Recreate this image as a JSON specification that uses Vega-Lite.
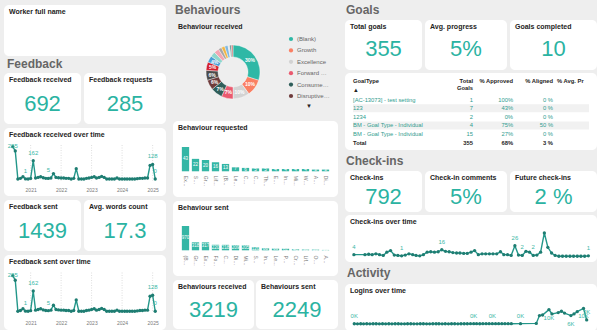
{
  "$schema": "https://vega.github.io/schema/vega-lite/v6.json",
  "background": "#eeeeee",
  "padding": {"left": 4, "top": 3, "right": 0, "bottom": 0},
  "config": {
    "font": "Liberation Sans",
    "view": {"fill": "#ffffff", "stroke": null, "cornerRadius": 5},
    "title": {"anchor": "start", "frame": "group", "fontSize": 7, "fontWeight": "bold", "color": "#252423", "offset": -10, "dx": 5, "font": "Liberation Sans"},
    "axis": {"domain": false, "ticks": false, "grid": false, "labelColor": "#7a7a7a", "labelFontSize": 5, "title": null, "labelFont": "Liberation Sans"},
    "concat": {"spacing": 4},
    "text": {"font": "Liberation Sans"}
  },
  "datasets": {
    "kpi": [
      {"k": "Worker full name", "v": ""},
      {"k": "Feedback received", "v": "692"}, {"k": "Feedback requests", "v": "285"},
      {"k": "Feedback sent", "v": "1439"}, {"k": "Avg. words count", "v": "17.3"},
      {"k": "Behaviours received", "v": "3219"}, {"k": "Behaviours sent", "v": "2249"},
      {"k": "Total goals", "v": "355"}, {"k": "Avg. progress", "v": "5%"}, {"k": "Goals completed", "v": "10"},
      {"k": "Check-ins", "v": "792"}, {"k": "Check-in comments", "v": "5%"}, {"k": "Future check-ins", "v": "2 %"}
    ],
    "years": [{"d": "2021-01-01"}, {"d": "2022-01-01"}, {"d": "2023-01-01"}, {"d": "2024-01-01"}, {"d": "2025-01-01"}],
    "fb": [
      {"d": "2020-06-01", "v": 285, "lab": "285"}, {"d": "2020-07-01", "v": 248}, {"d": "2020-08-01", "v": 0}, {"d": "2020-09-01", "v": 6},
      {"d": "2020-10-01", "v": 20}, {"d": "2020-11-01", "v": 1, "lab": "1"}, {"d": "2020-12-01", "v": 0}, {"d": "2021-01-01", "v": 5},
      {"d": "2021-02-01", "v": 162, "lab": "162"}, {"d": "2021-03-01", "v": 9}, {"d": "2021-04-01", "v": 14}, {"d": "2021-05-01", "v": 20},
      {"d": "2021-06-01", "v": 11}, {"d": "2021-07-01", "v": 6}, {"d": "2021-08-01", "v": 5, "lab": "5"}, {"d": "2021-09-01", "v": 9},
      {"d": "2021-10-01", "v": 48}, {"d": "2021-11-01", "v": 14}, {"d": "2021-12-01", "v": 11}, {"d": "2022-01-01", "v": 9},
      {"d": "2022-02-01", "v": 9}, {"d": "2022-03-01", "v": 6}, {"d": "2022-04-01", "v": 6}, {"d": "2022-05-01", "v": 0},
      {"d": "2022-06-01", "v": 6}, {"d": "2022-07-01", "v": 91}, {"d": "2022-08-01", "v": 0}, {"d": "2022-09-01", "v": 0},
      {"d": "2022-10-01", "v": 0}, {"d": "2022-11-01", "v": 6}, {"d": "2022-12-01", "v": 9}, {"d": "2023-01-01", "v": 14},
      {"d": "2023-02-01", "v": 20}, {"d": "2023-03-01", "v": 9}, {"d": "2023-04-01", "v": 14}, {"d": "2023-05-01", "v": 23},
      {"d": "2023-06-01", "v": 14}, {"d": "2023-07-01", "v": 0}, {"d": "2023-08-01", "v": 0}, {"d": "2023-09-01", "v": 0},
      {"d": "2023-10-01", "v": 0}, {"d": "2023-11-01", "v": 9}, {"d": "2023-12-01", "v": 0}, {"d": "2024-01-01", "v": 0},
      {"d": "2024-02-01", "v": 0}, {"d": "2024-03-01", "v": 0}, {"d": "2024-04-01", "v": 0}, {"d": "2024-05-01", "v": 0},
      {"d": "2024-06-01", "v": 0}, {"d": "2024-07-01", "v": 3}, {"d": "2024-08-01", "v": 6}, {"d": "2024-09-01", "v": 6},
      {"d": "2024-10-01", "v": 9}, {"d": "2024-11-01", "v": 9}, {"d": "2024-12-01", "v": 120}, {"d": "2025-01-01", "v": 128, "lab": "128"},
      {"d": "2025-02-01", "v": 0, "lab": "0"}
    ],
    "ci": [
      {"d": "2019-10-01", "v": 4, "lab": "4"}, {"d": "2020-01-01", "v": 4}, {"d": "2020-02-01", "v": 5}, {"d": "2020-03-01", "v": 4},
      {"d": "2020-04-01", "v": 6}, {"d": "2020-05-01", "v": 4}, {"d": "2020-06-01", "v": 2}, {"d": "2020-07-01", "v": 10},
      {"d": "2020-08-01", "v": 14}, {"d": "2020-09-01", "v": 3}, {"d": "2020-10-01", "v": 2}, {"d": "2020-11-01", "v": 1, "lab": "1"},
      {"d": "2020-12-01", "v": 3}, {"d": "2021-01-01", "v": 6}, {"d": "2021-02-01", "v": 4}, {"d": "2021-03-01", "v": 2},
      {"d": "2021-04-01", "v": 1}, {"d": "2021-05-01", "v": 4}, {"d": "2021-06-01", "v": 10}, {"d": "2021-07-01", "v": 11},
      {"d": "2021-08-01", "v": 10}, {"d": "2021-09-01", "v": 11}, {"d": "2021-10-01", "v": 16, "lab": "16"}, {"d": "2021-11-01", "v": 12},
      {"d": "2021-12-01", "v": 11}, {"d": "2022-01-01", "v": 9}, {"d": "2022-02-01", "v": 8}, {"d": "2022-03-01", "v": 8},
      {"d": "2022-04-01", "v": 7}, {"d": "2022-05-01", "v": 7}, {"d": "2022-06-01", "v": 10}, {"d": "2022-07-01", "v": 14},
      {"d": "2022-08-01", "v": 4}, {"d": "2022-09-01", "v": 6}, {"d": "2022-10-01", "v": 6}, {"d": "2022-11-01", "v": 6},
      {"d": "2022-12-01", "v": 6}, {"d": "2023-01-01", "v": 6}, {"d": "2023-02-01", "v": 11}, {"d": "2023-03-01", "v": 4},
      {"d": "2023-04-01", "v": 4}, {"d": "2023-05-01", "v": 2}, {"d": "2023-06-01", "v": 26, "lab": "26"}, {"d": "2023-07-01", "v": 3},
      {"d": "2023-08-01", "v": 2, "lab": "2"}, {"d": "2023-09-01", "v": 12}, {"d": "2023-10-01", "v": 10}, {"d": "2023-11-01", "v": 2, "lab": "2"},
      {"d": "2023-12-01", "v": 3}, {"d": "2024-01-01", "v": 10}, {"d": "2024-02-01", "v": 57}, {"d": "2024-03-01", "v": 22},
      {"d": "2024-04-01", "v": 8}, {"d": "2024-05-01", "v": 2}, {"d": "2024-06-01", "v": 0}, {"d": "2024-07-01", "v": 0},
      {"d": "2024-08-01", "v": 0}, {"d": "2024-09-01", "v": 0}, {"d": "2024-10-01", "v": 0}, {"d": "2024-11-01", "v": 0},
      {"d": "2024-12-01", "v": 0}, {"d": "2025-01-01", "v": 0}, {"d": "2025-02-01", "v": 1, "lab": "1"}
    ],
    "lg": [
      {"d": "2018-12-01", "v": 150, "lab": "0K"}, {"d": "2019-01-01", "v": 120}, {"d": "2019-02-01", "v": 180}, {"d": "2019-03-01", "v": 140},
      {"d": "2019-04-01", "v": 160}, {"d": "2019-05-01", "v": 130}, {"d": "2019-06-01", "v": 170}, {"d": "2019-07-01", "v": 150},
      {"d": "2019-08-01", "v": 120}, {"d": "2019-09-01", "v": 160}, {"d": "2019-10-01", "v": 140}, {"d": "2019-11-01", "v": 180},
      {"d": "2019-12-01", "v": 130}, {"d": "2020-01-01", "v": 150}, {"d": "2020-02-01", "v": 160}, {"d": "2020-03-01", "v": 140},
      {"d": "2020-04-01", "v": 120}, {"d": "2020-05-01", "v": 150}, {"d": "2020-06-01", "v": 170}, {"d": "2020-07-01", "v": 140},
      {"d": "2020-08-01", "v": 130}, {"d": "2020-09-01", "v": 160}, {"d": "2020-10-01", "v": 150}, {"d": "2020-11-01", "v": 140},
      {"d": "2020-12-01", "v": 120}, {"d": "2021-01-01", "v": 160}, {"d": "2021-02-01", "v": 150}, {"d": "2021-03-01", "v": 170},
      {"d": "2021-04-01", "v": 140}, {"d": "2021-05-01", "v": 150}, {"d": "2021-06-01", "v": 130}, {"d": "2021-07-01", "v": 160},
      {"d": "2021-08-01", "v": 150}, {"d": "2021-09-01", "v": 140}, {"d": "2021-10-01", "v": 170}, {"d": "2021-11-01", "v": 160},
      {"d": "2021-12-01", "v": 150}, {"d": "2022-01-01", "v": 190}, {"d": "2022-02-01", "v": 220, "lab": "0K"}, {"d": "2022-03-01", "v": 200},
      {"d": "2022-04-01", "v": 180}, {"d": "2022-05-01", "v": 210}, {"d": "2022-06-01", "v": 190}, {"d": "2022-07-01", "v": 200},
      {"d": "2022-08-01", "v": 230, "lab": "0K"}, {"d": "2022-09-01", "v": 210}, {"d": "2022-10-01", "v": 200}, {"d": "2022-11-01", "v": 190},
      {"d": "2022-12-01", "v": 210}, {"d": "2023-01-01", "v": 200}, {"d": "2023-02-01", "v": 190}, {"d": "2023-05-01", "v": 220, "lab": "0K"},
      {"d": "2023-10-01", "v": 400}, {"d": "2023-11-01", "v": 5600}, {"d": "2023-12-01", "v": 6000}, {"d": "2024-02-01", "v": 9600, "labB": "10K"},
      {"d": "2024-03-01", "v": 6700}, {"d": "2024-05-01", "v": 7600}, {"d": "2024-06-01", "v": 8500}, {"d": "2024-07-01", "v": 7300},
      {"d": "2024-09-01", "v": 5600, "labB": "6K"}, {"d": "2024-10-01", "v": 6700}, {"d": "2024-11-01", "v": 8200}, {"d": "2025-01-01", "v": 10400, "labB": "10K"},
      {"d": "2025-02-01", "v": 2700, "lab": "3K"}
    ],
    "beh": [
      {"b": "(Blank)", "p": 0.30}, {"b": "Growth", "p": 0.10}, {"b": "Excellence", "p": 0.10}, {"b": "Forward Leaning", "p": 0.07},
      {"b": "Consumer Centric", "p": 0.07}, {"b": "Disruptive Innovation", "p": 0.06}, {"b": "Mindset", "p": 0.06}, {"b": "Sustainability", "p": 0.05},
      {"b": "Innovation", "p": 0.04}, {"b": "Leadership", "p": 0.03}, {"b": "Performance", "p": 0.03}, {"b": "Creativity", "p": 0.02},
      {"b": "Lifelong Learning", "p": 0.02}, {"b": "Ownership", "p": 0.02}, {"b": "Adaptability", "p": 0.01}, {"b": "Collaboration", "p": 0.01},
      {"b": "Customer Focus", "p": 0.01}
    ],
    "req": [
      {"b": "Excellence", "v": 43}, {"b": "Sustainability", "v": 22}, {"b": "Growth", "v": 20}, {"b": "Lifelong Learning", "v": 16},
      {"b": "(Blank)", "v": 13}, {"b": "Leadership", "v": 7}, {"b": "Collaboration", "v": 6}, {"b": "Customer Focus", "v": 5},
      {"b": "Thinking Big", "v": 5}, {"b": "Empathy", "v": 4}, {"b": "Innovation", "v": 4}, {"b": "Mindset", "v": 4},
      {"b": "Wellbeing", "v": 4}, {"b": "Adaptability", "v": 3}, {"b": "Disruptive Innovation", "v": 3}
    ],
    "sent": [
      {"b": "(Blank)", "v": 970}, {"b": "Growth", "v": 318}, {"b": "Excellence", "v": 317}, {"b": "Forward Leaning", "v": 220},
      {"b": "Consumer Centric", "v": 218}, {"b": "Disruptive Innovation", "v": 209}, {"b": "Mindset", "v": 205}, {"b": "Sustainability", "v": 120},
      {"b": "Innovation", "v": 80}, {"b": "Leadership", "v": 66}, {"b": "Performance", "v": 62}, {"b": "Creativity", "v": 40},
      {"b": "Lifelong Learning", "v": 30}, {"b": "Ownership", "v": 28}, {"b": "Adaptability", "v": 15}
    ],
    "goals": [
      {"r": "r1", "type": "[AC-13073] - test setting", "total": "1", "appr": "100%", "alig": "0 %"},
      {"r": "r2", "type": "123", "total": "7", "appr": "43%", "alig": "0 %"},
      {"r": "r3", "type": "1234", "total": "2", "appr": "0%", "alig": "0 %"},
      {"r": "r4", "type": "BM - Goal Type - Individual", "total": "4", "appr": "75%", "alig": "50 %"},
      {"r": "r5", "type": "BM - Goal Type - Individual", "total": "15", "appr": "27%", "alig": "0 %"},
      {"r": "t", "type": "Total", "total": "355", "appr": "68%", "alig": "3 %"}
    ],
    "hdr": [
      {"c": "type", "r": "h", "h": "GoalType"},
      {"c": "type", "r": "s", "h": "▲"},
      {"c": "total", "r": "h", "h": "Total\nGoals"},
      {"c": "appr", "r": "h", "h": "% Approved"},
      {"c": "alig", "r": "h", "h": "% Aligned"},
      {"c": "avg", "r": "h", "h": "% Avg. Progress"}
    ]
  },
  "spacing": 7,
  "resolve": {"scale": {"color": "independent"}, "legend": {"color": "independent"}},
  "hconcat": [
    {
      "spacing": 2,
      "vconcat": [
        {"width": 162, "height": 51, "title": "Worker full name", "data": {"name": "kpi"}, "transform": [{"filter": "datum.k == 'Worker full name'"}], "mark": {"type": "text", "fontSize": 22, "color": "#2bb3a2", "dy": 6}, "encoding": {"x": {"datum": 0, "type": "quantitative", "scale": {"domain": [-1, 1]}, "axis": null}, "y": {"datum": 0, "type": "quantitative", "scale": {"domain": [-1, 1]}, "axis": null}, "text": {"field": "v"}}},
        {
          "title": {"text": "Feedback", "fontSize": 12, "color": "#666666", "offset": 2, "dx": 3},
          "spacing": 4,
          "vconcat": [
            {"spacing": 3, "hconcat": [
              {"width": 77, "height": 51, "title": "Feedback received", "data": {"name": "kpi"}, "transform": [{"filter": "datum.k == 'Feedback received'"}], "mark": {"type": "text", "fontSize": 22, "color": "#2bb3a2", "dy": 5.5}, "encoding": {"x": {"datum": 0, "type": "quantitative", "scale": {"domain": [-1, 1]}, "axis": null}, "y": {"datum": 0, "type": "quantitative", "scale": {"domain": [-1, 1]}, "axis": null}, "text": {"field": "v"}}},
              {"width": 82, "height": 51, "title": "Feedback requests", "data": {"name": "kpi"}, "transform": [{"filter": "datum.k == 'Feedback requests'"}], "mark": {"type": "text", "fontSize": 22, "color": "#2bb3a2", "dy": 5.5}, "encoding": {"x": {"datum": 0, "type": "quantitative", "scale": {"domain": [-1, 1]}, "axis": null}, "y": {"datum": 0, "type": "quantitative", "scale": {"domain": [-1, 1]}, "axis": null}, "text": {"field": "v"}}}
            ]},
            {
              "width": 162, "height": 68, "title": "Feedback received over time",
              "encoding": {"x": {"field": "d", "type": "temporal", "scale": {"domain": [{"year": 2020, "month": 2, "date": 17, "utc": true}, {"year": 2025, "month": 6, "date": 10, "utc": true}]}, "axis": {"format": "%Y", "tickCount": "year", "offset": -9, "labelPadding": 0, "labelFlush": false}}},
              "layer": [
                {"data": {"name": "years"}, "mark": {"type": "rule", "strokeDash": [1, 1.5], "color": "#c8c8c8", "strokeWidth": 0.6}, "encoding": {"y": {"datum": 300, "type": "quantitative", "axis": null}, "y2": {"datum": -14}}},
                {"data": {"name": "fb"}, "mark": {"type": "line", "color": "#23978a", "strokeWidth": 1.4, "point": {"filled": true, "size": 11, "color": "#1e7d72"}}, "encoding": {"y": {"field": "v", "type": "quantitative", "scale": {"domain": [-134, 448]}, "axis": null}}},
                {"data": {"name": "fb"}, "transform": [{"filter": "isValid(datum.lab) && datum.v < 250"}], "mark": {"type": "text", "fontSize": 6, "color": "#3bb8a7", "dy": -8}, "encoding": {"y": {"field": "v", "type": "quantitative", "axis": null}, "text": {"field": "lab"}}},
                {"data": {"name": "fb"}, "transform": [{"filter": "isValid(datum.lab) && datum.v >= 250"}], "mark": {"type": "text", "fontSize": 6, "color": "#3bb8a7", "dy": -1}, "encoding": {"y": {"field": "v", "type": "quantitative", "axis": null}, "text": {"field": "lab"}}}
              ]
            },
            {"spacing": 3, "hconcat": [
              {"width": 77, "height": 51, "title": "Feedback sent", "data": {"name": "kpi"}, "transform": [{"filter": "datum.k == 'Feedback sent'"}], "mark": {"type": "text", "fontSize": 22, "color": "#2bb3a2", "dy": 5.5}, "encoding": {"x": {"datum": 0, "type": "quantitative", "scale": {"domain": [-1, 1]}, "axis": null}, "y": {"datum": 0, "type": "quantitative", "scale": {"domain": [-1, 1]}, "axis": null}, "text": {"field": "v"}}},
              {"width": 82, "height": 51, "title": "Avg. words count", "data": {"name": "kpi"}, "transform": [{"filter": "datum.k == 'Avg. words count'"}], "mark": {"type": "text", "fontSize": 22, "color": "#2bb3a2", "dy": 5.5}, "encoding": {"x": {"datum": 0, "type": "quantitative", "scale": {"domain": [-1, 1]}, "axis": null}, "y": {"datum": 0, "type": "quantitative", "scale": {"domain": [-1, 1]}, "axis": null}, "text": {"field": "v"}}}
            ]},
            {
              "width": 162, "height": 75, "title": "Feedback sent over time",
              "encoding": {"x": {"field": "d", "type": "temporal", "scale": {"domain": [{"year": 2020, "month": 2, "date": 17, "utc": true}, {"year": 2025, "month": 6, "date": 10, "utc": true}]}, "axis": {"format": "%Y", "tickCount": "year", "offset": -10, "labelPadding": 0, "labelFlush": false}}},
              "layer": [
                {"data": {"name": "years"}, "mark": {"type": "rule", "strokeDash": [1, 1.5], "color": "#c8c8c8", "strokeWidth": 0.6}, "encoding": {"y": {"datum": 310, "type": "quantitative", "axis": null}, "y2": {"datum": -10}}},
                {"data": {"name": "fb"}, "mark": {"type": "line", "color": "#23978a", "strokeWidth": 1.4, "point": {"filled": true, "size": 11, "color": "#1e7d72"}}, "encoding": {"y": {"field": "v", "type": "quantitative", "scale": {"domain": [-130, 448]}, "axis": null}}},
                {"data": {"name": "fb"}, "transform": [{"filter": "isValid(datum.lab) && datum.v < 250"}], "mark": {"type": "text", "fontSize": 6, "color": "#3bb8a7", "dy": -8}, "encoding": {"y": {"field": "v", "type": "quantitative", "axis": null}, "text": {"field": "lab"}}},
                {"data": {"name": "fb"}, "transform": [{"filter": "isValid(datum.lab) && datum.v >= 250"}], "mark": {"type": "text", "fontSize": 6, "color": "#3bb8a7", "dy": -1}, "encoding": {"y": {"field": "v", "type": "quantitative", "axis": null}, "text": {"field": "lab"}}}
              ]
            }
          ]
        }
      ]
    },
    {
      "spacing": 4,
      "resolve": {"scale": {"color": "independent"}, "legend": {"color": "independent"}},
      "vconcat": [
        {"width": 165, "height": 11, "view": {"fill": "#eeeeee"}, "title": {"text": "Behaviours", "fontSize": 12, "color": "#666666", "offset": -12, "dx": 2}, "data": {"values": [{"v": ""}]}, "mark": {"type": "text"}, "encoding": {"text": {"field": "v"}}},
        {
          "width": 165, "height": 97, "title": "Behaviour received",
          "data": {"name": "beh"},
          "encoding": {"theta": {"field": "p", "type": "quantitative", "stack": true}, "order": {"field": "p", "sort": "descending"}},
          "layer": [
            {"mark": {"type": "arc", "outerRadius": 27, "innerRadius": 15, "xOffset": -22.5, "yOffset": 3.5, "stroke": "#ffffff", "strokeWidth": 0.4},
             "encoding": {"color": {"field": "b", "type": "nominal", "sort": null,
               "scale": {"domain": ["(Blank)", "Growth", "Excellence", "Forward Leaning", "Consumer Centric", "Disruptive Innovation", "Mindset", "Sustainability", "Innovation", "Leadership", "Performance", "Creativity", "Lifelong Learning", "Ownership", "Adaptability", "Collaboration", "Customer Focus"],
                         "range": ["#2fb8a6", "#fa8064", "#d3d3d3", "#ea5a6f", "#2f5e5a", "#6e3b3b", "#4b4b4b", "#d21f2e", "#4a9fd6", "#8fd6cc", "#f3a6b3", "#a6a6a6", "#f2b544", "#7fb8e0", "#e0e0e0", "#5c8f8a", "#cc7777"]},
               "legend": {"orient": "none", "legendX": 115, "legendY": 16, "values": ["(Blank)", "Growth", "Excellence", "Forward Leaning", "Consumer Centric", "Disruptive Innovation"],
                          "title": "▼", "titleOrient": "bottom", "titleAnchor": "middle", "titleFontSize": 6, "titleColor": "#252423", "titlePadding": 4,
                          "symbolType": "circle", "symbolSize": 18, "symbolStrokeWidth": 0, "labelFontSize": 6, "labelColor": "#666666", "labelLimit": 33, "rowPadding": 5.4, "labelOffset": 3}}}},
            {"mark": {"type": "text", "radius": 21, "xOffset": -22.5, "yOffset": 3.5, "fontSize": 5, "color": "#ffffff", "fontWeight": "bold"},
             "encoding": {"detail": {"field": "b"}, "text": {"condition": {"test": "datum.p < 0.04", "value": ""}, "field": "p", "format": ".0%"}}}
          ]
        },
        {
          "width": 165, "height": 76, "title": "Behaviour requested",
          "data": {"name": "req"},
          "encoding": {"x": {"field": "b", "type": "nominal", "sort": null, "scale": {"paddingInner": 0.27, "paddingOuter": 0.885}, "axis": {"labelAngle": 90, "labelLimit": 11, "labelFontSize": 5, "offset": -22.7, "labelPadding": 1}}},
          "layer": [
            {"mark": {"type": "bar", "color": "#34b6a5"}, "encoding": {"y": {"field": "v", "type": "quantitative", "scale": {"domain": [-45.5, 89]}, "axis": null}}},
            {"mark": {"type": "text", "color": "#ffffff", "fontSize": 4.5, "baseline": "middle"}, "encoding": {"y": {"field": "v", "type": "quantitative", "scale": {"domain": [-91, 178]}, "axis": null}, "text": {"field": "v"}}}
          ],
          "resolve": {"scale": {"y": "independent"}}
        },
        {
          "width": 165, "height": 75, "title": "Behaviour sent",
          "data": {"name": "sent"},
          "encoding": {"x": {"field": "b", "type": "nominal", "sort": null, "scale": {"paddingInner": 0.27, "paddingOuter": 0.885}, "axis": {"labelAngle": 90, "labelLimit": 11, "labelFontSize": 5, "offset": -22, "labelPadding": 1}}},
          "layer": [
            {"mark": {"type": "bar", "color": "#34b6a5"}, "encoding": {"y": {"field": "v", "type": "quantitative", "scale": {"domain": [-1026, 1968]}, "axis": null}}},
            {"mark": {"type": "text", "color": "#ffffff", "fontSize": 4.5, "baseline": "middle"}, "encoding": {"y": {"field": "v", "type": "quantitative", "scale": {"domain": [-2052, 3936]}, "axis": null}, "text": {"field": "v"}}}
          ],
          "resolve": {"scale": {"y": "independent"}}
        },
        {"spacing": 2, "hconcat": [
          {"width": 81, "height": 49, "title": "Behaviours received", "data": {"name": "kpi"}, "transform": [{"filter": "datum.k == 'Behaviours received'"}], "mark": {"type": "text", "fontSize": 22, "color": "#2bb3a2", "dy": 5.8}, "encoding": {"x": {"datum": 0, "type": "quantitative", "scale": {"domain": [-1, 1]}, "axis": null}, "y": {"datum": 0, "type": "quantitative", "scale": {"domain": [-1, 1]}, "axis": null}, "text": {"field": "v"}}},
          {"width": 82, "height": 49, "title": "Behaviours sent", "data": {"name": "kpi"}, "transform": [{"filter": "datum.k == 'Behaviours sent'"}], "mark": {"type": "text", "fontSize": 22, "color": "#2bb3a2", "dy": 5.8}, "encoding": {"x": {"datum": 0, "type": "quantitative", "scale": {"domain": [-1, 1]}, "axis": null}, "y": {"datum": 0, "type": "quantitative", "scale": {"domain": [-1, 1]}, "axis": null}, "text": {"field": "v"}}}
        ]}
      ]
    },
    {
      "spacing": 5,
      "vconcat": [
        {
          "spacing": 3,
          "vconcat": [
            {"width": 252, "height": 12, "view": {"fill": "#eeeeee"}, "title": {"text": "Goals", "fontSize": 12, "color": "#666666", "offset": -12, "dx": 1}, "data": {"values": [{"v": ""}]}, "mark": {"type": "text"}, "encoding": {"text": {"field": "v"}}},
            {"spacing": 3, "hconcat": [
              {"width": 77, "height": 50, "title": "Total goals", "data": {"name": "kpi"}, "transform": [{"filter": "datum.k == 'Total goals'"}], "mark": {"type": "text", "fontSize": 22, "color": "#2bb3a2", "dy": 3.5}, "encoding": {"x": {"datum": 0, "type": "quantitative", "scale": {"domain": [-1, 1]}, "axis": null}, "y": {"datum": 0, "type": "quantitative", "scale": {"domain": [-1, 1]}, "axis": null}, "text": {"field": "v"}}},
              {"width": 82, "height": 50, "title": "Avg. progress", "data": {"name": "kpi"}, "transform": [{"filter": "datum.k == 'Avg. progress'"}], "mark": {"type": "text", "fontSize": 22, "color": "#2bb3a2", "dy": 3.5}, "encoding": {"x": {"datum": 0, "type": "quantitative", "scale": {"domain": [-1, 1]}, "axis": null}, "y": {"datum": 0, "type": "quantitative", "scale": {"domain": [-1, 1]}, "axis": null}, "text": {"field": "v"}}},
              {"width": 87, "height": 50, "title": "Goals completed", "data": {"name": "kpi"}, "transform": [{"filter": "datum.k == 'Goals completed'"}], "mark": {"type": "text", "fontSize": 22, "color": "#2bb3a2", "dy": 3.5}, "encoding": {"x": {"datum": 0, "type": "quantitative", "scale": {"domain": [-1, 1]}, "axis": null}, "y": {"datum": 0, "type": "quantitative", "scale": {"domain": [-1, 1]}, "axis": null}, "text": {"field": "v"}}}
            ]},
            {
              "width": 252, "height": 77,
              "encoding": {
                "x": {"type": "ordinal", "scale": {"type": "point", "domain": ["type", "s1", "s2", "total", "appr", "alig", "avg"], "padding": 0.15, "align": 0.67}, "axis": null},
                "y": {"type": "ordinal", "scale": {"type": "point", "domain": ["h", "s", "r1", "r2", "r3", "r4", "r5", "t"], "padding": 1.139, "align": 0.566}, "axis": null}
              },
              "layer": [
                {"data": {"name": "goals"}, "transform": [{"filter": "datum.r == 'r2' || datum.r == 'r4'"}], "mark": {"type": "tick", "orient": "horizontal", "color": "#f1f1f1", "thickness": 8, "size": 236, "opacity": 1}, "encoding": {"y": {"field": "r", "type": "ordinal"}}},
                {"data": {"name": "goals"}, "transform": [{"filter": "datum.r != 't'"}], "mark": {"type": "text", "align": "left", "fontSize": 5.8, "color": "#2e9c8e"}, "encoding": {"x": {"datum": "type"}, "y": {"field": "r", "type": "ordinal"}, "text": {"field": "type"}}},
                {"data": {"name": "goals"}, "transform": [{"filter": "datum.r == 't'"}], "mark": {"type": "text", "align": "left", "fontSize": 5.8, "fontWeight": "bold", "color": "#252423"}, "encoding": {"x": {"datum": "type"}, "y": {"field": "r", "type": "ordinal"}, "text": {"field": "type"}}},
                {"data": {"name": "goals"}, "transform": [{"fold": ["total", "appr", "alig"], "as": ["c", "t"]}, {"filter": "datum.r != 't'"}], "mark": {"type": "text", "align": "right", "fontSize": 5.8, "color": "#2e9c8e"}, "encoding": {"x": {"field": "c", "type": "ordinal"}, "y": {"field": "r", "type": "ordinal"}, "text": {"field": "t"}}},
                {"data": {"name": "goals"}, "transform": [{"fold": ["total", "appr", "alig"], "as": ["c", "t"]}, {"filter": "datum.r == 't'"}], "mark": {"type": "text", "align": "right", "fontSize": 5.8, "fontWeight": "bold", "color": "#252423"}, "encoding": {"x": {"field": "c", "type": "ordinal"}, "y": {"field": "r", "type": "ordinal"}, "text": {"field": "t"}}},
                {"data": {"name": "hdr"}, "transform": [{"filter": "datum.c == 'type'"}], "mark": {"type": "text", "align": "left", "baseline": "top", "dy": -4.7, "fontSize": 5.8, "fontWeight": "bold", "color": "#252423"}, "encoding": {"x": {"field": "c", "type": "ordinal"}, "y": {"field": "r", "type": "ordinal"}, "text": {"field": "h"}}},
                {"data": {"name": "hdr"}, "transform": [{"filter": "datum.c != 'type' && datum.c != 'avg'"}], "mark": {"type": "text", "align": "right", "baseline": "top", "dy": -4.7, "fontSize": 5.8, "fontWeight": "bold", "color": "#252423", "lineBreak": "\n", "lineHeight": 7}, "encoding": {"x": {"field": "c", "type": "ordinal"}, "y": {"field": "r", "type": "ordinal"}, "text": {"field": "h"}}},
                {"data": {"name": "hdr"}, "transform": [{"filter": "datum.c == 'avg'"}], "mark": {"type": "text", "align": "left", "baseline": "top", "dy": -4.7, "dx": -36, "limit": 31, "ellipsis": " ", "fontSize": 5.8, "fontWeight": "bold", "color": "#252423"}, "encoding": {"x": {"field": "c", "type": "ordinal"}, "y": {"field": "r", "type": "ordinal"}, "text": {"field": "h"}}}
              ]
            }
          ]
        },
        {
          "title": {"text": "Check-ins", "fontSize": 12, "color": "#666666", "offset": 3, "dx": 1},
          "spacing": 3,
          "vconcat": [
            {"spacing": 3, "hconcat": [
              {"width": 77, "height": 41, "title": "Check-ins", "data": {"name": "kpi"}, "transform": [{"filter": "datum.k == 'Check-ins'"}], "mark": {"type": "text", "fontSize": 22, "color": "#2bb3a2", "dy": 5.5}, "encoding": {"x": {"datum": 0, "type": "quantitative", "scale": {"domain": [-1, 1]}, "axis": null}, "y": {"datum": 0, "type": "quantitative", "scale": {"domain": [-1, 1]}, "axis": null}, "text": {"field": "v"}}},
              {"width": 82, "height": 41, "title": "Check-in comments", "data": {"name": "kpi"}, "transform": [{"filter": "datum.k == 'Check-in comments'"}], "mark": {"type": "text", "fontSize": 22, "color": "#2bb3a2", "dy": 5.5}, "encoding": {"x": {"datum": 0, "type": "quantitative", "scale": {"domain": [-1, 1]}, "axis": null}, "y": {"datum": 0, "type": "quantitative", "scale": {"domain": [-1, 1]}, "axis": null}, "text": {"field": "v"}}},
              {"width": 87, "height": 41, "title": "Future check-ins", "data": {"name": "kpi"}, "transform": [{"filter": "datum.k == 'Future check-ins'"}], "mark": {"type": "text", "fontSize": 22, "color": "#2bb3a2", "dy": 5.5}, "encoding": {"x": {"datum": 0, "type": "quantitative", "scale": {"domain": [-1, 1]}, "axis": null}, "y": {"datum": 0, "type": "quantitative", "scale": {"domain": [-1, 1]}, "axis": null}, "text": {"field": "v"}}}
            ]},
            {
              "width": 252, "height": 47, "title": "Check-ins over time",
              "data": {"name": "ci"},
              "encoding": {"x": {"field": "d", "type": "temporal", "scale": {"domain": [{"year": 2019, "month": 7, "date": 19, "utc": true}, {"year": 2025, "month": 4, "date": 14, "utc": true}]}, "axis": null},
                           "y": {"field": "v", "type": "quantitative", "scale": {"domain": [-14, 101]}, "axis": null}},
              "layer": [
                {"mark": {"type": "line", "color": "#23978a", "strokeWidth": 1.4, "point": {"filled": true, "size": 11, "color": "#1e7d72"}}},
                {"transform": [{"filter": "isValid(datum.lab)"}], "mark": {"type": "text", "fontSize": 6, "color": "#3bb8a7", "dy": -8}, "encoding": {"text": {"field": "lab"}}}
              ]
            }
          ]
        },
        {
          "title": {"text": "Activity", "fontSize": 12, "color": "#666666", "offset": 4, "dx": 2},
          "vconcat": [
            {
              "width": 252, "height": 47, "title": "Logins over time",
              "data": {"name": "lg"},
              "encoding": {"x": {"field": "d", "type": "temporal", "scale": {"domain": [{"year": 2018, "month": 9, "date": 2, "utc": true}, {"year": 2025, "month": 5, "date": 12, "utc": true}]}, "axis": null},
                           "y": {"field": "v", "type": "quantitative", "scale": {"domain": [-4667, 26667]}, "axis": null}},
              "layer": [
                {"mark": {"type": "line", "color": "#23978a", "strokeWidth": 1.4, "point": {"filled": true, "size": 11, "color": "#1e7d72"}}},
                {"transform": [{"filter": "isValid(datum.lab)"}], "mark": {"type": "text", "fontSize": 6, "color": "#3bb8a7", "dy": -8}, "encoding": {"text": {"field": "lab"}}},
                {"transform": [{"filter": "isValid(datum.labB)"}], "mark": {"type": "text", "fontSize": 6, "color": "#3bb8a7", "dy": 8}, "encoding": {"text": {"field": "labB"}}}
              ]
            }
          ]
        }
      ]
    }
  ]
}
